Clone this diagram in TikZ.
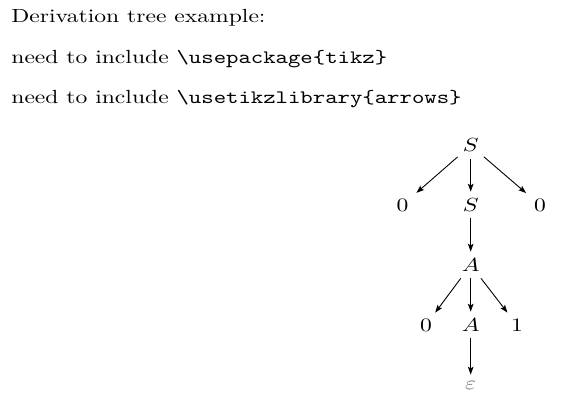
\documentclass[tikz,border=0pt]{standalone}
\usepackage{fontspec}
\usepackage{graphicx}
\usetikzlibrary{arrows.meta}
\newcommand{\sqz}[1]{\scalebox{1.18}[0.95]{#1}}
\tikzset{
  txt/.style={anchor=base west, inner sep=0pt},
  lett/.style={inner sep=0pt, minimum width=12.7pt, minimum height=13pt},
  dig/.style={inner sep=0pt, minimum width=13.5pt, minimum height=12pt},
  eps/.style={inner sep=0pt, minimum width=12pt, minimum height=10pt, text=black!55},
  arr/.style={-{Stealth[length=3.9pt,width=2.8pt,inset=0.8pt]}, line width=0.45pt}
}
\begin{document}
\begin{tikzpicture}[x=0.5pt,y=-0.5pt]
\path[use as bounding box] (0,0) rectangle (575,407);
\node[txt] (l1) at (11,23) {\sqz{Derivation tree example:}};
\node[txt] (l2) at (11,63.3) {\sqz{need to include \texttt{\textbackslash usepackage\{tikz\}}}};
\node[txt] (l3) at (11,103.3) {\sqz{need to include \texttt{\textbackslash usetikzlibrary\{arrows\}}}};
\node[lett] (s1) at (470.7,145.5) {\sqz{$S$}};
\node[dig]  (z1) at (402.5,205) {\sqz{$0$}};
\node[lett] (s2) at (470.7,205) {\sqz{$S$}};
\node[dig]  (z2) at (540,205) {\sqz{$0$}};
\node[lett] (a1) at (470.7,265) {\sqz{$A$}};
\node[dig]  (z3) at (426,325) {\sqz{$0$}};
\node[lett] (a2) at (470.7,325) {\sqz{$A$}};
\node[dig]  (o1) at (517,325) {\sqz{$1$}};
\node[eps]  (e1) at (470.7,385) {\sqz{$\varepsilon$}};
\draw[arr] (s1) -- (z1);
\draw[arr] (s1) -- (s2);
\draw[arr] (s1) -- (z2);
\draw[arr] (s2) -- (a1);
\draw[arr] (a1) -- (z3);
\draw[arr] (a1) -- (a2);
\draw[arr] (a1) -- (o1);
\draw[arr] (a2) -- (e1);
\end{tikzpicture}
\end{document}
